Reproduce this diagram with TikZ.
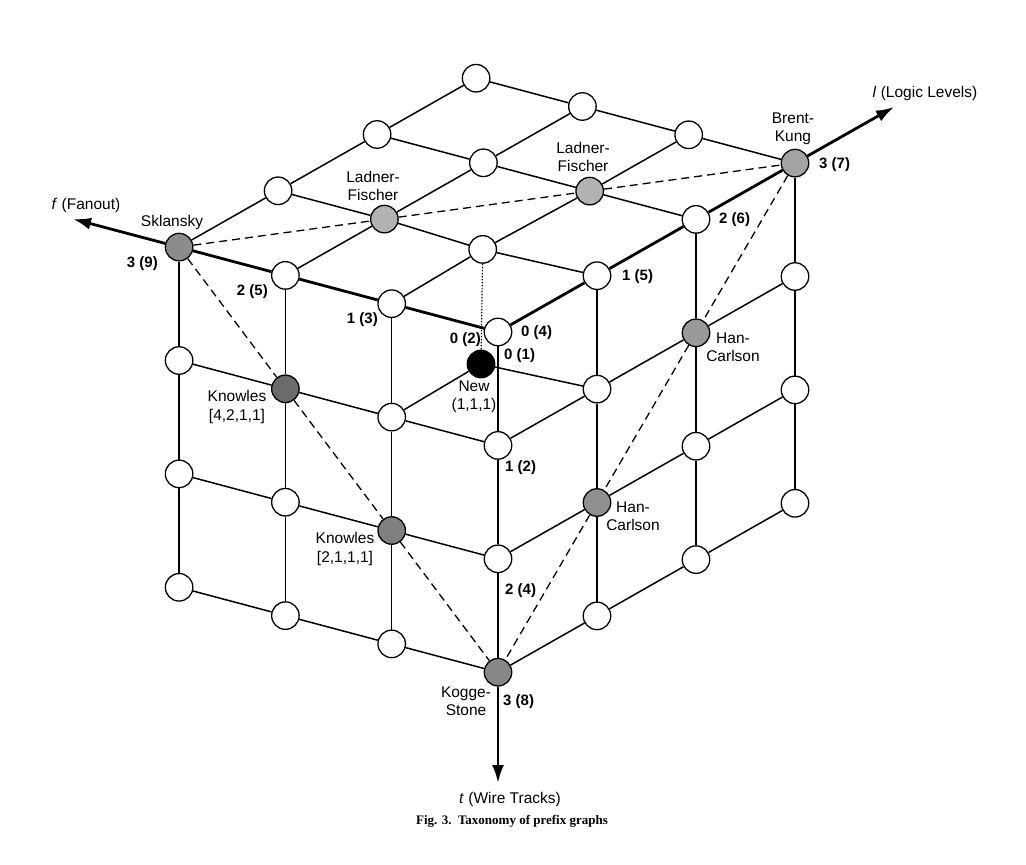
\documentclass[tikz,border=0pt]{standalone}
\usepackage{fontspec}
\setmainfont{Liberation Sans}
\newfontfamily\capfont{Liberation Serif}
\usetikzlibrary{arrows.meta}
\definecolor{cSk}{gray}{0.55}
\definecolor{cLF}{gray}{0.70}
\definecolor{cBK}{gray}{0.64}
\definecolor{cKnA}{gray}{0.42}
\definecolor{cKnB}{gray}{0.50}
\definecolor{cHCA}{gray}{0.60}
\definecolor{cHCB}{gray}{0.56}
\definecolor{cKS}{gray}{0.53}
\begin{document}
\begin{tikzpicture}[x=1pt,y=-1pt,
  pnode/.style={circle,draw=black,line width=1.3pt,fill=white,minimum size=27.5pt,inner sep=0pt},
  gridline/.style={line width=1.5pt},
  axisline/.style={line width=2.8pt},
  axisarrow/.style={line width=2.8pt,-{Latex[length=18pt,width=12pt]}},
  diag/.style={line width=1.3pt,dash pattern=on 8pt off 5pt},
  hiddenline/.style={line width=1.2pt,dash pattern=on 1.6pt off 1.4pt},
  lbl/.style={font=\fontsize{15.5}{18.5}\selectfont,align=center,inner sep=0pt},
  num/.style={font=\fontsize{15}{17}\selectfont\bfseries,inner sep=0pt},
  axlbl/.style={font=\fontsize{15.5}{18}\selectfont,inner sep=0pt},
  c300/.style={fill=cSk}, c210/.style={fill=cLF}, c120/.style={fill=cLF},
  c030/.style={fill=cBK}, c201/.style={fill=cKnA}, c102/.style={fill=cKnB},
  c021/.style={fill=cHCA}, c012/.style={fill=cHCB}, c003/.style={fill=cKS},
  c110/.style={xshift=-8pt,yshift=-2pt}
]
\useasboundingbox (0,0) rectangle (1026,865);

% grid nodes on the three visible faces
\foreach \fa in {0,...,3}{
 \foreach \la in {0,...,3}{
  \foreach \ta in {0,...,3}{
   \ifnum\numexpr\fa*\la*\ta\relax=0
     \node[pnode,c\fa\la\ta/.try] (n\fa\la\ta) at ({498-106.3*\fa+99*\la},{332-28.3*\fa-56.3*\la+113.4*\ta}) {};
   \fi
}}}
\node[pnode,fill=black] (new) at (481,364) {};

\coordinate (fend) at (73,219);
\coordinate (lend) at (894,107);
\coordinate (tend) at (498,783);

% top face (t=0)
\foreach \fa in {1,2,3} \foreach \la [count=\m] in {0,1,2} \draw[gridline] (n\fa\la0) -- (n\fa\m0);
\foreach \la in {1,2,3} \foreach \fa [count=\m] in {0,1,2} \draw[gridline] (n\fa\la0) -- (n\m\la0);
% left face (l=0)
\foreach \ta in {1,2,3} \foreach \fa [count=\m] in {0,1,2} \draw[gridline] (n\fa0\ta) -- (n\m0\ta);
\foreach \fa in {1,2,3} \foreach \ta [count=\m] in {0,1,2} \draw[gridline] (n\fa0\ta) -- (n\fa0\m);
% right face (f=0)
\foreach \ta in {1,2,3} \foreach \la [count=\m] in {0,1,2} \draw[gridline] (n0\la\ta) -- (n0\m\ta);
\foreach \la in {1,2,3} \foreach \ta [count=\m] in {0,1,2} \draw[gridline] (n0\la\ta) -- (n0\la\m);

% axes
\foreach \a [count=\m] in {0,1,2} {
  \draw[axisline] (n\a00) -- (n\m00);
  \draw[axisline] (n0\a0) -- (n0\m0);
  \draw[axisline] (n00\a) -- (n00\m);
}
\draw[axisarrow] (n300) -- (fend);
\draw[axisarrow] (n030) -- (lend);
\draw[axisarrow] (n003) -- (tend);

% interior edges to New
\draw[gridline] (n101) -- (new);
\draw[gridline] (n011) -- (new);
\draw[hiddenline] (n110) -- (new);

% dashed diagonals
\draw[diag] (n300) -- (n210);
\draw[diag] (n210) -- (n120);
\draw[diag] (n120) -- (n030);
\draw[diag] (n300) -- (n201);
\draw[diag] (n201) -- (n102);
\draw[diag] (n102) -- (n003);
\draw[diag] (n030) -- (n021);
\draw[diag] (n021) -- (n012);
\draw[diag] (n012) -- (n003);

% names
\node[lbl] (tSk) at (172,222) {Sklansky};
\node[lbl] (tLFa) at (373,186) {Ladner-\\Fischer};
\node[lbl] (tLFb) at (583,157) {Ladner-\\Fischer};
\node[lbl] (tBK) at (793,129) {Brent-\\Kung};
\node[lbl] (tHCa) at (733,347) {Han-\\Carlson};
\node[lbl] (tHCb) at (633,516) {Han-\\Carlson};
\node[lbl] (tKnA) at (237,407) {Knowles\\{[4,2,1,1]}};
\node[lbl] (tKnB) at (345,549) {Knowles\\{[2,1,1,1]}};
\node[lbl] (tNew) at (474,397) {New\\(1,1,1)};
\node[lbl] (tKS) at (466,701) {Kogge-\\Stone};

% axis numbers
\node[num,anchor=east] (f0) at (481,340) {0 (2)};
\node[num,anchor=east] (f1) at (378,320) {1 (3)};
\node[num,anchor=east] (f2) at (268,292) {2 (5)};
\node[num,anchor=east] (f3) at (158,264) {3 (9)};
\node[num,anchor=west] (l0) at (521,333) {0 (4)};
\node[num,anchor=west] (l1) at (622,277) {1 (5)};
\node[num,anchor=west] (l2) at (719,220) {2 (6)};
\node[num,anchor=west] (l3) at (819,165) {3 (7)};
\node[num,anchor=west] (t0) at (504,356) {0 (1)};
\node[num,anchor=west] (t1) at (505,468) {1 (2)};
\node[num,anchor=west] (t2) at (505,591) {2 (4)};
\node[num,anchor=west] (t3) at (503,702) {3 (8)};

% axis titles
\node[axlbl] (fax) at (86,205) {\textit{f} (Fanout)};
\node[axlbl] (lax) at (925,93) {\textit{l} (Logic Levels)};
\node[axlbl] (tax) at (510,799) {\textit{t} (Wire Tracks)};

% caption
\node[inner sep=0pt,font=\capfont\bfseries\fontsize{13}{15}\selectfont] (cap) at (512,821) {Fig. 3.\ \ Taxonomy of prefix graphs};
\end{tikzpicture}
\end{document}
